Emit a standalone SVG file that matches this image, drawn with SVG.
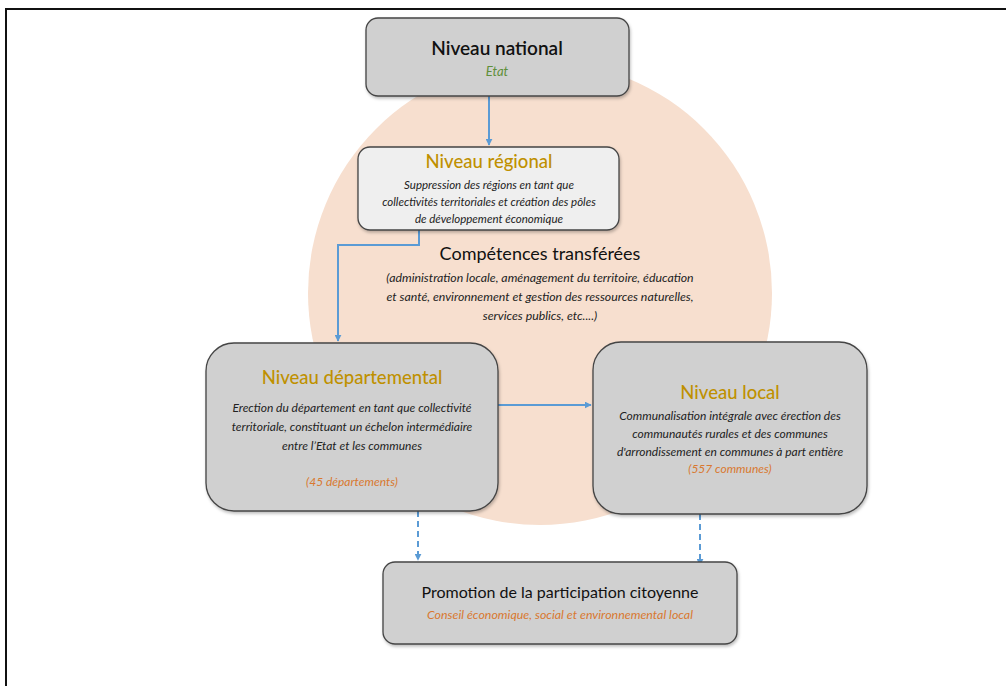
<svg xmlns="http://www.w3.org/2000/svg" width="1006" height="686" viewBox="0 0 1006 686">
<defs>
<marker id="ah" viewBox="0 0 10 10" refX="9" refY="5" markerWidth="7" markerHeight="7" orient="auto" markerUnits="userSpaceOnUse"><path d="M0,0 L10,5 L0,10 z" fill="#5b9bd5"/></marker>
<filter id="sh" x="-10%" y="-10%" width="120%" height="130%"><feDropShadow dx="1" dy="2" stdDeviation="1.5" flood-color="#000" flood-opacity="0.25"/></filter>
</defs>
<style>
.box{stroke:#444;stroke-width:1.3;filter:url(#sh)}
.g{fill:#d0d0d0}
.l{fill:#efefef}
.t{font-family:Lato,"Open Sans",sans-serif;text-anchor:middle}
.ti{font-size:19px;fill:#111;font-weight:600}
.gold{font-size:18.5px;fill:#bf9000;font-weight:500}
.d{font-size:11.5px;font-style:italic;fill:#222}
.d2{font-size:12px;font-style:italic;fill:#222}
.o{font-size:12px;font-style:italic;fill:#d9782f}
.c{stroke:#5b9bd5;stroke-width:2;fill:none}
.dash{stroke-dasharray:6 4}
</style>
<rect width="1006" height="686" fill="#fff"/>
<path d="M6,686 V9 H1006" fill="none" stroke="#111" stroke-width="2"/>
<circle cx="540" cy="293" r="232" fill="#f7dfcf"/>
<g id="connectors">
<path class="c" d="M489,96 V145" marker-end="url(#ah)"/>
<path class="c" d="M419,230 V245 H338 V341" marker-end="url(#ah)"/>
<path class="c" d="M498,405 H591" marker-end="url(#ah)"/>
<path class="c dash" d="M418,511 V560" marker-end="url(#ah)"/>
<path class="c dash" d="M700,514 V565" marker-end="url(#ah)"/>
</g>
<g id="national">
<rect class="box g" x="366" y="18" width="263" height="78" rx="12"/>
<text class="t ti" x="497" y="55">Niveau national</text>
<text class="t" x="497" y="76" font-size="13" font-style="italic" fill="#5f8f3a">Etat</text>
</g>
<g id="regional">
<rect class="box l" x="358" y="147" width="261" height="83" rx="12"/>
<text class="t gold" x="489" y="168">Niveau régional</text>
<text class="t d" x="489" y="189">Suppression des régions en tant que</text>
<text class="t d" x="489" y="206">collectivités territoriales et création des pôles</text>
<text class="t d" x="489" y="223">de développement économique</text>
</g>
<g id="competences">
<text class="t" x="540" y="260" font-size="18" fill="#111">Compétences transférées</text>
<text class="t" x="540" y="282" font-size="12.3" font-style="italic" fill="#222">(administration locale, aménagement du territoire, éducation</text>
<text class="t" x="540" y="301" font-size="12.3" font-style="italic" fill="#222">et santé, environnement et gestion des ressources naturelles,</text>
<text class="t" x="540" y="320" font-size="12.3" font-style="italic" fill="#222">services publics, etc....)</text>
</g>
<g id="departemental">
<rect class="box g" x="206" y="343" width="292" height="168" rx="28"/>
<text class="t gold" x="352" y="384">Niveau départemental</text>
<text class="t d2" x="352" y="412">Erection du département en tant que collectivité</text>
<text class="t d2" x="352" y="431">territoriale, constituant un échelon intermédiaire</text>
<text class="t d2" x="352" y="450">entre l’Etat et les communes</text>
<text class="t o" x="352" y="486">(45 départements)</text>
</g>
<g id="local">
<rect class="box g" x="593" y="342" width="274" height="172" rx="28"/>
<text class="t gold" x="730" y="399">Niveau local</text>
<text class="t d2" x="730" y="420">Communalisation intégrale avec érection des</text>
<text class="t d2" x="730" y="438">communautés rurales et des communes</text>
<text class="t d2" x="730" y="456">d'arrondissement en communes à part entière</text>
<text class="t o" x="730" y="473">(557 communes)</text>
</g>
<g id="promotion">
<rect class="box g" x="383" y="562" width="354" height="82" rx="12"/>
<text class="t" x="560" y="598" font-size="16" fill="#111">Promotion de la participation citoyenne</text>
<text class="t" x="560" y="619" font-size="12.4" font-style="italic" fill="#d9782f">Conseil économique, social et environnemental local</text>
</g>
</svg>
